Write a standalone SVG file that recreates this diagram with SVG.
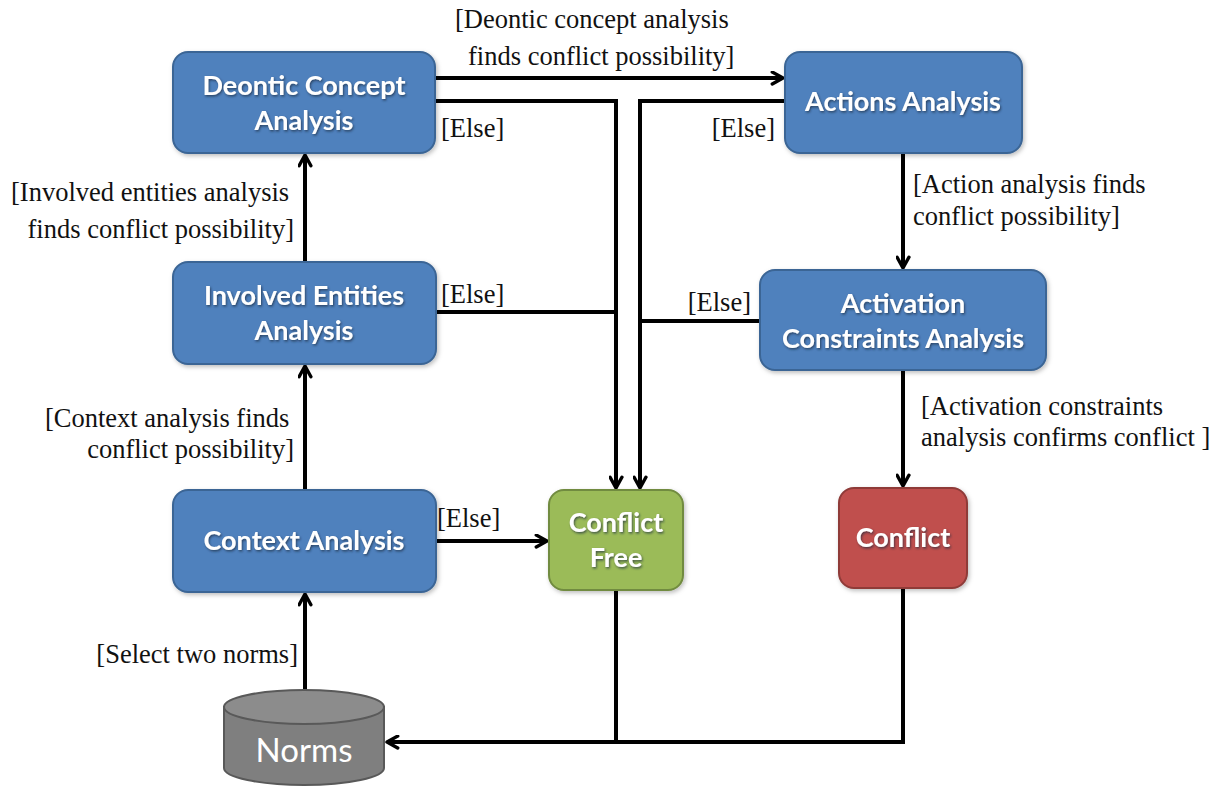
<svg xmlns="http://www.w3.org/2000/svg" width="1223" height="789" viewBox="0 0 1223 789">
  <style>
    .lbl { font-family: "Liberation Serif", "DejaVu Serif", "Times New Roman", serif; font-size: 26.5px; fill: #111; }
    .box { stroke-width: 2; }
    .blue { fill: #4f81bd; stroke: #3b6595; }
    .green { fill: #9bbb59; stroke: #718b3f; }
    .red { fill: #c0504d; stroke: #8f3b39; }
    .btxt { font-family: Lato, "Liberation Sans", sans-serif; font-weight: bold; font-size: 27px; fill: #fff; text-anchor: middle; }
    .conn { fill: none; stroke: #000; stroke-width: 4; }
  </style>
  <defs>
    <marker id="arrow" viewBox="0 0 14 14" refX="12" refY="7" markerWidth="15" markerHeight="15" markerUnits="userSpaceOnUse" orient="auto">
      <path d="M2,1.5 L12,7 L2,12.5" fill="none" stroke="#000" stroke-width="3.2" stroke-linecap="round" stroke-linejoin="round"/>
    </marker>
    <filter id="tshadow" x="-10%" y="-20%" width="120%" height="150%">
      <feDropShadow dx="1" dy="1.5" stdDeviation="1" flood-color="#1a2a40" flood-opacity="0.7"/>
    </filter>
    <filter id="bshadow" x="-10%" y="-10%" width="125%" height="130%">
      <feDropShadow dx="1.5" dy="2" stdDeviation="2" flood-color="#000" flood-opacity="0.25"/>
    </filter>
  </defs>

  <rect width="1223" height="789" fill="#fff"/>

  <!-- connectors -->
  <g id="connectors">
    <path class="conn" d="M305,690 L305,594" marker-end="url(#arrow)"/>
    <path class="conn" d="M305,490 L305,366" marker-end="url(#arrow)"/>
    <path class="conn" d="M305,262 L305,155" marker-end="url(#arrow)"/>
    <path class="conn" d="M435,78 L783,78" marker-end="url(#arrow)"/>
    <path class="conn" d="M435,101 L616,101 L616,488" marker-end="url(#arrow)"/>
    <path class="conn" d="M785,101 L640,101 L640,488" marker-end="url(#arrow)"/>
    <path class="conn" d="M436,312 L616,312"/>
    <path class="conn" d="M760,321 L640,321"/>
    <path class="conn" d="M436,541 L547,541" marker-end="url(#arrow)"/>
    <path class="conn" d="M903,153 L903,268" marker-end="url(#arrow)"/>
    <path class="conn" d="M903,370 L903,486" marker-end="url(#arrow)"/>
    <path class="conn" d="M903,588 L903,742 L387,742" marker-end="url(#arrow)"/>
    <path class="conn" d="M616,590 L616,742"/>
  </g>

  <!-- connector labels -->
  <g id="labels">
    <text class="lbl" x="455" y="28">[Deontic concept analysis</text>
    <text class="lbl" x="468" y="65">finds conflict possibility]</text>
    <text class="lbl" x="441" y="137">[Else]</text>
    <text class="lbl" x="775" y="137" text-anchor="end">[Else]</text>
    <text class="lbl" x="11" y="201">[Involved entities analysis</text>
    <text class="lbl" x="294" y="238" text-anchor="end">finds conflict possibility]</text>
    <text class="lbl" x="441" y="303">[Else]</text>
    <text class="lbl" x="751" y="311" text-anchor="end">[Else]</text>
    <text class="lbl" x="913" y="193">[Action analysis finds</text>
    <text class="lbl" x="913" y="225">conflict possibility]</text>
    <text class="lbl" x="45" y="427">[Context analysis finds</text>
    <text class="lbl" x="294" y="458" text-anchor="end">conflict possibility]</text>
    <text class="lbl" x="921" y="415">[Activation constraints</text>
    <text class="lbl" x="921" y="446">analysis confirms conflict ]</text>
    <text class="lbl" x="437" y="527">[Else]</text>
    <text class="lbl" x="298" y="663" text-anchor="end">[Select two norms]</text>
  </g>

  <g id="deontic">
    <rect class="box blue" x="173" y="52" width="262" height="101" rx="15" filter="url(#bshadow)"/>
    <text class="btxt" filter="url(#tshadow)"><tspan x="304" y="95">Deontic Concept</tspan><tspan x="304" y="130">Analysis</tspan></text>
  </g>

  <g id="involved">
    <rect class="box blue" x="173" y="262" width="263" height="102" rx="15" filter="url(#bshadow)"/>
    <text class="btxt" filter="url(#tshadow)"><tspan x="304" y="305">Involved Entities</tspan><tspan x="304" y="340">Analysis</tspan></text>
  </g>

  <g id="context">
    <rect class="box blue" x="173" y="490" width="263" height="102" rx="15" filter="url(#bshadow)"/>
    <text class="btxt" x="304" y="550" filter="url(#tshadow)">Context Analysis</text>
  </g>

  <g id="actions">
    <rect class="box blue" x="785" y="52" width="237" height="101" rx="15" filter="url(#bshadow)"/>
    <text class="btxt" x="903" y="111" filter="url(#tshadow)">Actions Analysis</text>
  </g>

  <g id="activation">
    <rect class="box blue" x="760" y="270" width="286" height="100" rx="15" filter="url(#bshadow)"/>
    <text class="btxt" filter="url(#tshadow)"><tspan x="903" y="313">Activation</tspan><tspan x="903" y="348">Constraints Analysis</tspan></text>
  </g>

  <g id="conflict-free">
    <rect class="box green" x="549" y="490" width="134" height="100" rx="15" filter="url(#bshadow)"/>
    <text class="btxt" filter="url(#tshadow)"><tspan x="616" y="532">Conflict</tspan><tspan x="616" y="567">Free</tspan></text>
  </g>

  <g id="conflict">
    <rect class="box red" x="839" y="488" width="128" height="100" rx="15" filter="url(#bshadow)"/>
    <text class="btxt" x="903" y="547" filter="url(#tshadow)">Conflict</text>
  </g>

  <g id="norms">
    <path d="M224,707 L224,768 A80,17 0 0 0 384,768 L384,707 Z" fill="#7f7f7f" stroke="#595959" stroke-width="2"/>
    <ellipse cx="304" cy="707" rx="80" ry="17" fill="#8c8c8c" stroke="#595959" stroke-width="2"/>
    <text x="304" y="762" text-anchor="middle" font-family="Lato, 'Liberation Sans', sans-serif" font-size="33" fill="#fff">Norms</text>
  </g>
</svg>
